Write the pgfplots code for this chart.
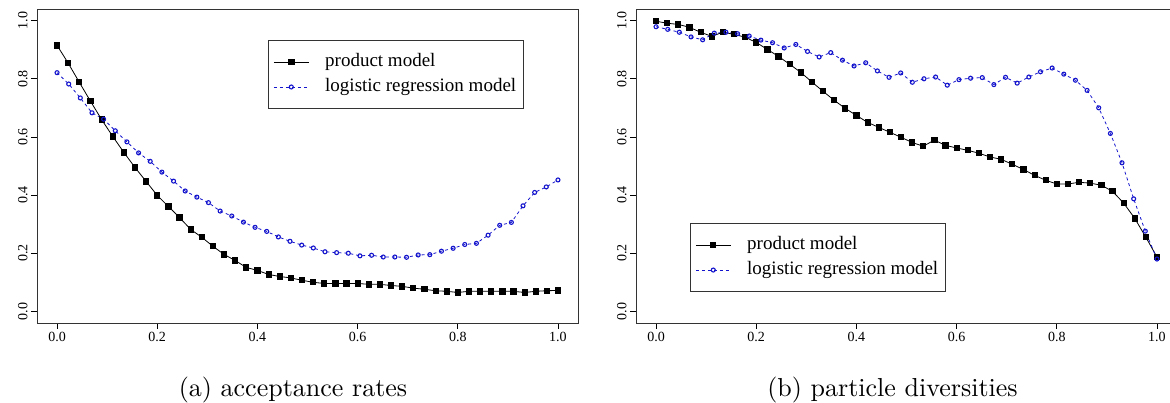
\documentclass[border=0pt]{standalone}
\usepackage{fontspec}
\usepackage{pgfplots}
\usepackage{pgfplotstable}
\pgfplotsset{compat=1.18}
\newfontfamily\rfont{Liberation Serif}
\newfontfamily\capfont{lmroman10-regular.otf}

\definecolor{rblue}{RGB}{20,20,205}

% acceptance rates, product model (46 iterations)
\pgfplotstableread{
x y
0 0.915
0.0222 0.854
0.0444 0.788
0.0667 0.723
0.0889 0.660
0.1111 0.602
0.1333 0.547
0.1556 0.495
0.1778 0.447
0.2 0.399
0.2222 0.361
0.2444 0.323
0.2667 0.282
0.2889 0.255
0.3111 0.224
0.3333 0.196
0.3556 0.175
0.3778 0.151
0.4 0.141
0.4222 0.127
0.4444 0.120
0.4667 0.115
0.4889 0.107
0.5111 0.100
0.5333 0.096
0.5556 0.096
0.5778 0.096
0.6 0.096
0.6222 0.093
0.6444 0.093
0.6667 0.089
0.6889 0.086
0.7111 0.080
0.7333 0.076
0.7556 0.071
0.7778 0.069
0.8 0.065
0.8222 0.069
0.8444 0.069
0.8667 0.069
0.8889 0.069
0.9111 0.069
0.9333 0.065
0.9556 0.069
0.9778 0.071
1 0.072
}\accprod

% acceptance rates, logistic regression model (44 iterations)
\pgfplotstableread{
x y
0 0.821
0.0233 0.782
0.0465 0.734
0.0698 0.683
0.0930 0.661
0.1163 0.621
0.1395 0.583
0.1628 0.545
0.1860 0.516
0.2093 0.479
0.2326 0.448
0.2558 0.414
0.2791 0.393
0.3023 0.374
0.3256 0.345
0.3488 0.328
0.3721 0.307
0.3953 0.289
0.4186 0.275
0.4419 0.256
0.4651 0.241
0.4884 0.228
0.5116 0.218
0.5349 0.205
0.5581 0.202
0.5814 0.200
0.6047 0.191
0.6279 0.193
0.6512 0.187
0.6744 0.187
0.6977 0.186
0.7209 0.194
0.7442 0.195
0.7674 0.207
0.7907 0.217
0.8140 0.230
0.8372 0.234
0.8605 0.262
0.8837 0.296
0.9070 0.306
0.9302 0.363
0.9535 0.409
0.9767 0.428
1 0.452
}\acclogit

% particle diversities, product model
\pgfplotstableread{
x y
0 0.998
0.0222 0.991
0.0444 0.987
0.0667 0.977
0.0889 0.960
0.1111 0.946
0.1333 0.960
0.1556 0.953
0.1778 0.943
0.2 0.925
0.2222 0.901
0.2444 0.877
0.2667 0.850
0.2889 0.822
0.3111 0.789
0.3333 0.757
0.3556 0.726
0.3778 0.698
0.4 0.674
0.4222 0.650
0.4444 0.633
0.4667 0.616
0.4889 0.599
0.5111 0.581
0.5333 0.568
0.5556 0.589
0.5778 0.571
0.6 0.562
0.6222 0.554
0.6444 0.544
0.6667 0.531
0.6889 0.523
0.7111 0.506
0.7333 0.488
0.7556 0.468
0.7778 0.451
0.8 0.438
0.8222 0.438
0.8444 0.444
0.8667 0.441
0.8889 0.434
0.9111 0.413
0.9333 0.373
0.9556 0.320
0.9778 0.255
1 0.187
}\divprod

% particle diversities, logistic regression model
\pgfplotstableread{
x y
0 0.979
0.0233 0.970
0.0465 0.960
0.0698 0.944
0.0930 0.934
0.1163 0.957
0.1395 0.960
0.1628 0.955
0.1860 0.947
0.2093 0.933
0.2326 0.924
0.2558 0.906
0.2791 0.918
0.3023 0.894
0.3256 0.875
0.3488 0.890
0.3721 0.864
0.3953 0.844
0.4186 0.855
0.4419 0.827
0.4651 0.805
0.4884 0.820
0.5116 0.788
0.5349 0.800
0.5581 0.806
0.5814 0.778
0.6047 0.797
0.6279 0.802
0.6512 0.804
0.6744 0.780
0.6977 0.805
0.7209 0.785
0.7442 0.806
0.7674 0.824
0.7907 0.837
0.8140 0.816
0.8372 0.795
0.8605 0.760
0.8837 0.700
0.9070 0.612
0.9302 0.511
0.9535 0.387
0.9767 0.276
1 0.180
}\divlogit

\pgfplotsset{
  rpanel/.style={
    scale only axis, width=541pt, height=314pt, anchor=south west,
    xmin=-0.04, xmax=1.04, ymin=-0.04, ymax=1.04,
    xtick={0,0.2,0.4,0.6,0.8,1}, ytick={0,0.2,0.4,0.6,0.8,1},
    tick pos=left, tick align=outside, major tick length=6pt,
    tick style={black, line width=0.8pt},
    axis line style={black!80, line width=0.8pt},
    ticklabel style={font=\rfont\fontsize{14}{16}\selectfont,
      /pgf/number format/fixed, /pgf/number format/fixed zerofill,
      /pgf/number format/precision=1, /pgf/number format/assume math mode=true},
    yticklabel style={rotate=90, anchor=south},
    legend cell align=left,
    legend image code/.code={\draw[mark repeat=2, mark phase=2, ##1]
      plot coordinates {(0pt,0pt) (17.5pt,0pt) (35pt,0pt)};},
    legend style={draw=black!80, line width=0.8pt,
      font=\rfont\fontsize{19}{22}\selectfont,
      inner xsep=5pt, inner ysep=9pt, row sep=0pt,
      /tikz/every odd column/.append style={column sep=14pt},
      nodes={text height=13pt, text depth=4pt, inner ysep=4pt}},
  },
  prod/.style={black, line width=0.8pt, mark=square*, mark size=2.6pt},
  logit/.style={rblue, line width=0.8pt, dash pattern=on 3pt off 3pt,
    mark=o, mark size=2pt, mark options={solid, line width=1.1pt}},
}

\begin{document}
\begin{tikzpicture}[x=1pt, y=1pt]
\begin{axis}[rpanel, at={(37pt,80pt)},
  legend style={at={(0.427,0.901)}, anchor=north west}]
\addplot[prod] table {\accprod};
\addlegendentry{product model}
\addplot[logit] table {\acclogit};
\addlegendentry{logistic regression model}
\end{axis}

\begin{axis}[rpanel, at={(636pt,80pt)},
  legend style={at={(0.0998,0.318)}, anchor=north west}]
\addplot[prod] table {\divprod};
\addlegendentry{product model}
\addplot[logit] table {\divlogit};
\addlegendentry{logistic regression model}
\end{axis}

\node[anchor=base, font=\capfont\fontsize{26}{30}\selectfont] at (293,6) {(a) acceptance rates};
\node[anchor=base, font=\capfont\fontsize{26}{30}\selectfont] at (892.5,6) {(b) particle diversities};

\pgfresetboundingbox
\path[use as bounding box] (0,0) rectangle (1170,403);
\end{tikzpicture}
\end{document}
